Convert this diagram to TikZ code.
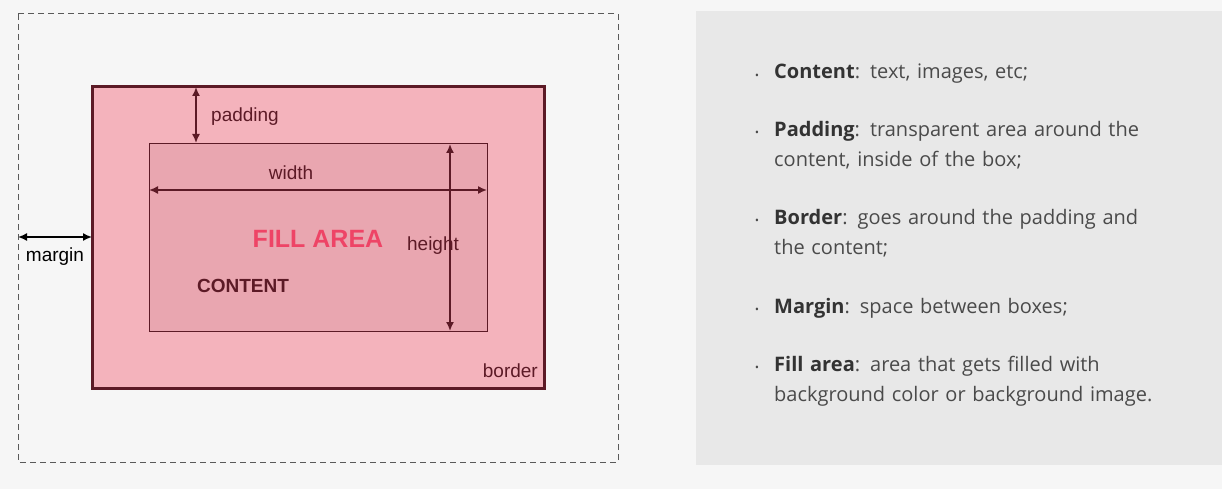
\documentclass[tikz,border=0pt]{standalone}
\usepackage{fontspec}
\setmainfont{Liberation Sans}
\newfontfamily\bulletfont{Open Sans}
\usetikzlibrary{arrows.meta}
\definecolor{bgcol}{HTML}{F6F6F6}
\definecolor{panelcol}{HTML}{E8E8E8}
\definecolor{maroon}{HTML}{5C1A26}
\definecolor{borderfill}{HTML}{F4B3BC}
\definecolor{contentfill}{HTML}{E9A6B0}
\definecolor{fillred}{HTML}{EE4466}
\definecolor{textgray}{HTML}{4A4A4A}
\tikzset{
  lbl/.style={font=\fontsize{19}{22}\selectfont, text=maroon, inner sep=0pt},
  dim/.style={draw=maroon, line width=1.6pt, {Latex[length=9pt,width=8pt]}-{Latex[length=9pt,width=8pt]}},
  item/.style={anchor=north west, align=left, text width=400pt, inner sep=0pt,
    font=\bulletfont\fontsize{20}{30}\selectfont, text=textgray},
  dot/.style={font=\bulletfont\fontsize{20}{30}\selectfont, text=textgray, inner sep=0pt}
}
\newcommand{\term}[1]{\textbf{\color{black!80}#1}}
\begin{document}
\begin{tikzpicture}[x=1pt,y=-1pt]
    \useasboundingbox (0,0) rectangle (1222,489);
    \fill[bgcol] (0,0) rectangle (1222,489);
    % box model
    \draw[dashed, black!65, line width=1pt, dash pattern=on 6pt off 4pt] (18,14) rectangle (618,462);
    \draw[maroon, fill=borderfill, line width=3pt] (92,87) rectangle (544,388);
    \draw[maroon, fill=contentfill, line width=0.8pt] (149,143) rectangle (487,331);
    \coordinate (padT) at (196,87); \coordinate (padB) at (196,143);
    \coordinate (widL) at (149,190); \coordinate (widR) at (487,190);
    \coordinate (heiT) at (450,144); \coordinate (heiB) at (450,331);
    \coordinate (marL) at (18,237); \coordinate (marR) at (92,237);
    \draw[dim] (padT)--(padB);
    \draw[dim] (widL)--(widR);
    \draw[dim] (heiT)--(heiB);
    \draw[dim, draw=black] (marL)--(marR);
    \node[lbl, anchor=west] (padding) at (211,117) {padding};
    \node[lbl] (width) at (291,173) {width};
    \node[lbl] (height) at (433,246) {height};
    \node[lbl, text=black] (margin) at (55,257) {margin};
    \node[lbl, anchor=east] (border) at (538,371) {border};
    \node[inner sep=0pt, text=fillred, font=\fontsize{25}{28}\selectfont\bfseries] (fill) at (318,239) {FILL AREA};
    \node[inner sep=0pt, text=maroon, font=\fontsize{19}{22}\selectfont\bfseries] (content) at (243,286) {CONTENT};
    % explanation panel
    \fill[panelcol] (696,11) rectangle (1222,465);
    \foreach \y/\txt [count=\i] in {
        64/{\term{Content}: text, images, etc;},
        121/{\term{Padding}: transparent area around the\\content, inside of the box;},
        209/{\term{Border}: goes around the padding and\\the content;},
        298/{\term{Margin}: space between boxes;},
        356/{\term{Fill area}: area that gets filled with\\background color or background image.}} {
      \node[dot] (dot\i) at (757,\y+14) {·};
      \node[item] (item\i) at (774,\y) {\txt};
    }
\end{tikzpicture}
\end{document}
